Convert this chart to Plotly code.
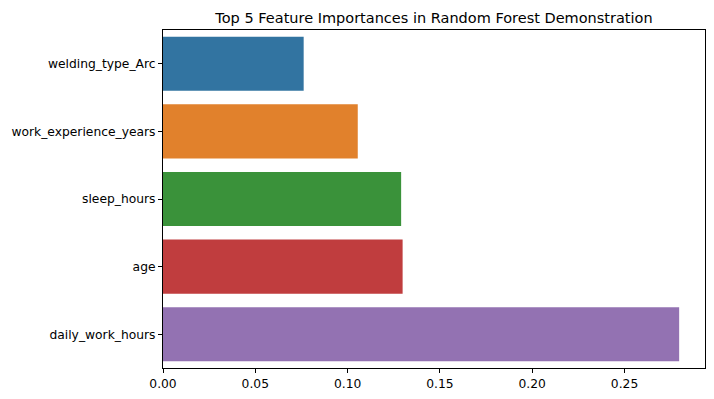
import plotly.graph_objects as go

features = ["welding_type_Arc", "work_experience_years", "sleep_hours", "age", "daily_work_hours"]
importances = [0.0762, 0.1055, 0.1290, 0.1298, 0.2796]
colors = ["#3274a1", "#e1812c", "#3a923a", "#c03d3e", "#9372b2"]
x_ticks = [0.0, 0.05, 0.10, 0.15, 0.20, 0.25]
x_tick_labels = ["0.00", "0.05", "0.10", "0.15", "0.20", "0.25"]

fig = go.Figure(go.Bar(
    x=importances, y=features, orientation="h",
    marker=dict(color=colors, line=dict(width=0)),
    width=0.8,
))

fig.update_layout(
    width=714, height=399,
    margin=dict(l=163, r=9, t=30, b=31),
    paper_bgcolor="white", plot_bgcolor="white",
    font=dict(family="DejaVu Sans", size=12.3, color="black"),
    title=dict(text="Top 5 Feature Importances in Random Forest Demonstration",
               x=0.5, xref="paper", xanchor="center",
               y=1 - 18/399, yanchor="middle",
               font=dict(size=14.5, color="black")),
    showlegend=False,
    bargap=0.2,
)
fig.update_xaxes(
    range=[0, 0.2936], tickvals=x_ticks, ticktext=x_tick_labels,
    showgrid=False, zeroline=False,
    showline=True, linecolor="black", linewidth=1, mirror=True,
    ticks="outside", ticklen=4, tickcolor="black",
)
fig.update_yaxes(
    categoryorder="array", categoryarray=features,
    range=[4.5, -0.5],
    showgrid=False, zeroline=False,
    showline=True, linecolor="black", linewidth=1, mirror=True,
    ticks="outside", ticklen=4, tickcolor="black",
)

fig.write_html("out.html")
